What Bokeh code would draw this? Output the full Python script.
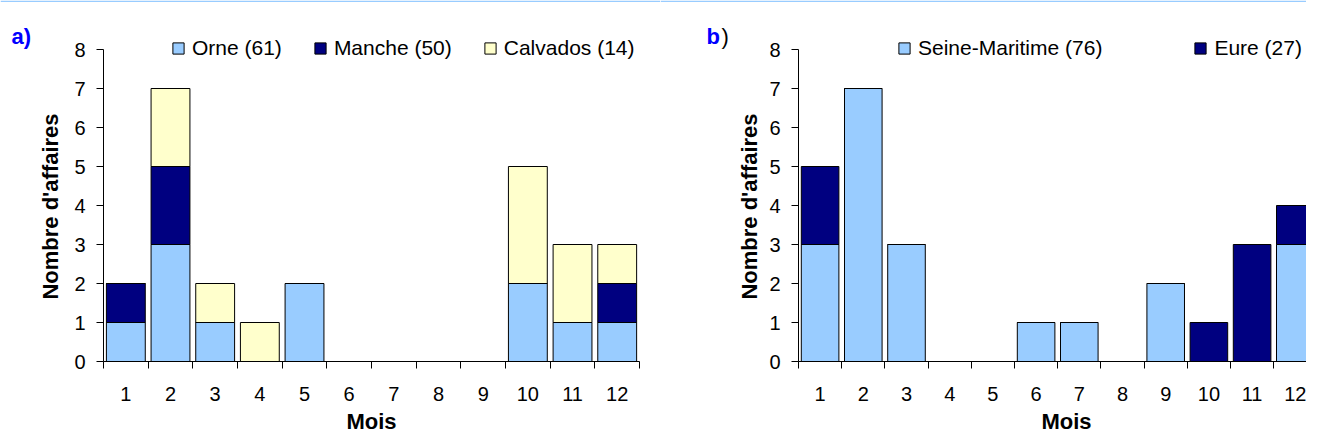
import math
from bokeh.plotting import figure
from bokeh.models import (Range1d, FixedTicker, Legend, LegendItem, Label,
                          ColumnDataSource, Span)
from bokeh.layouts import row
from bokeh.embed import file_html
from bokeh.resources import INLINE

# ---- data ----
months = list(range(1, 13))
month_labels = [str(m) for m in months]
y_ticks = list(range(0, 9))

# panel a)
orne = [1, 3, 1, 0, 2, 0, 0, 0, 0, 2, 1, 1]
manche = [1, 2, 0, 0, 0, 0, 0, 0, 0, 0, 0, 1]
calvados = [0, 2, 1, 1, 0, 0, 0, 0, 0, 3, 2, 1]
labels_a = ["Orne (61)", "Manche (50)", "Calvados (14)"]

# panel b)
seine_maritime = [3, 7, 3, 0, 0, 1, 1, 0, 2, 0, 0, 3]
eure = [2, 0, 0, 0, 0, 0, 0, 0, 0, 1, 3, 1]
labels_b = ["Seine-Maritime (76)", "Eure (27)"]

FONT = "Liberation Sans"
LIGHT_BLUE = "#99CCFF"
NAVY = "#000080"
LIGHT_YELLOW = "#FFFFCC"

H = 432            # figure height (px)
Y0_PX = 361        # pixel row of value 0
PX_PER_Y = 39.0    # pixels per unit on y


def yv(px):
    """value at a given pixel row"""
    return (Y0_PX - px) / PX_PER_Y


def make_panel(series, names, colors, width, axis_px, px_per_x,
               legend_x, legend_spacing, ylabel_px, mois_px, tag_parts):
    data = {"month": months}
    for n, s in zip(names, series):
        data[n] = s
    src = ColumnDataSource(data)
    x_start = 0.5 - axis_px / px_per_x

    def xv(px):
        return x_start + px / px_per_x

    p = figure(width=width, height=H, output_backend="svg", toolbar_location=None,
               x_range=Range1d(x_start, xv(width)), y_range=Range1d(yv(H), yv(0)),
               min_border_left=0, min_border_right=0,
               min_border_top=0, min_border_bottom=0)
    p.outline_line_color = None
    p.xgrid.visible = False
    p.ygrid.visible = False
    p.background_fill_color = "white"
    p.border_fill_color = "white"

    rs = p.vbar_stack(names, x="month", width=0.87, source=src, color=colors,
                      line_color="black", line_width=1)

    xa = p.xaxis[0]
    xa.fixed_location = 0
    xa.bounds = (0.5, 12.5)
    xa.ticker = FixedTicker(ticks=months, minor_ticks=[m - 0.5 for m in months] + [12.5])
    xa.major_label_overrides = {m: lab for m, lab in zip(months, month_labels)}
    xa.major_tick_out = 0
    xa.major_tick_in = 0
    xa.minor_tick_out = 7
    xa.minor_tick_in = 0
    xa.minor_tick_line_color = "black"
    xa.axis_line_color = "black"
    xa.major_label_standoff = 18
    xa.major_label_text_font = FONT
    xa.major_label_text_font_size = "20px"
    xa.major_label_text_color = "black"

    ya = p.yaxis[0]
    ya.fixed_location = 0.5
    ya.bounds = (0, 8)
    ya.ticker = FixedTicker(ticks=y_ticks)
    ya.major_tick_out = 7
    ya.major_tick_in = 0
    ya.minor_tick_out = 0
    ya.minor_tick_in = 0
    ya.axis_line_color = "black"
    ya.major_tick_line_color = "black"
    ya.major_label_standoff = 11
    ya.major_label_text_font = FONT
    ya.major_label_text_font_size = "20px"
    ya.major_label_text_color = "black"

    # y axis title
    p.add_layout(Label(x=xv(ylabel_px), y=yv(206), text="Nombre d'affaires",
                       angle=math.pi / 2, text_align="center", text_baseline="middle",
                       text_font=FONT, text_font_size="22px", text_font_style="bold",
                       text_color="black"))
    # x axis title
    p.add_layout(Label(x=xv(mois_px), y=yv(408), text="Mois", text_align="center",
                       text_baseline="top", text_font=FONT,
                       text_font_size="22px", text_font_style="bold",
                       text_color="black"))

    # panel tag, e.g. "a)" / "b)"
    for txt, px, color, style in tag_parts:
        p.add_layout(Label(x=xv(px), y=yv(36), text=txt, text_baseline="alphabetic",
                           text_font=FONT, text_font_size="22px",
                           text_font_style=style, text_color=color))

    # thin light-blue rule along the top
    p.add_layout(Span(location=yv(0.75), dimension="width", line_color=LIGHT_BLUE,
                      line_width=1.5))

    items = [LegendItem(label=n, renderers=[r]) for n, r in zip(names, rs)]
    legend = Legend(items=items, orientation="horizontal",
                    location=(legend_x, H - 60),
                    border_line_color=None, background_fill_alpha=0, padding=0, margin=0,
                    spacing=legend_spacing, label_standoff=7, glyph_width=14,
                    glyph_height=14, label_text_font=FONT, label_text_font_size="21px",
                    label_text_color="black")
    p.add_layout(legend)
    return p


pa = make_panel([orne, manche, calvados], labels_a, [LIGHT_BLUE, NAVY, LIGHT_YELLOW],
                width=660, axis_px=103, px_per_x=44.67,
                legend_x=171, legend_spacing=31, ylabel_px=50, mois_px=371,
                tag_parts=[("a)", 11, "#0000FF", "bold")])

pb = make_panel([seine_maritime, eure], labels_b, [LIGHT_BLUE, NAVY],
                width=646, axis_px=138, px_per_x=43.2,
                legend_x=237, legend_spacing=91, ylabel_px=89, mois_px=406,
                tag_parts=[("b", 46, "#0000FF", "bold"), (")", 61, "black", "normal")])

layout = row(pa, pb, spacing=0)
open("out.html", "w").write(file_html(layout, INLINE))
